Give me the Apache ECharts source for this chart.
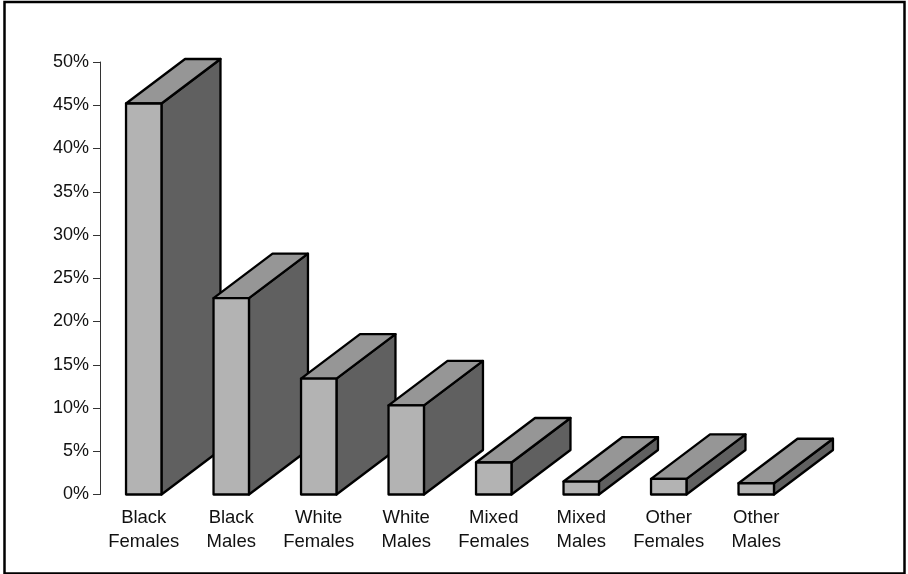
<!DOCTYPE html>
<html>
<head>
<meta charset="utf-8">
<script src="https://cdn.jsdelivr.net/npm/echarts@6/dist/echarts.min.js"></script>
<style>
  html, body { margin: 0; padding: 0; background: #ffffff; }
  #chart { width: 908px; height: 574px; }
</style>
</head>
<body>
<div id="chart"></div>
<script>
// Share of each group, in percent
const categories = ['Black Females', 'Black Males', 'White Females', 'White Males',
                    'Mixed Females', 'Mixed Males', 'Other Females', 'Other Males'];
const shares = [45.2, 22.7, 13.4, 10.3, 3.7, 1.5, 1.8, 1.3];
const yTicks = { min: 0, max: 50, step: 5 };

const FRONT = '#b3b3b3';
const TOP = '#969696';
const SIDE = '#606060';

// Extruded block: front face, top face and right side, offset back and up.
function renderBlock(params, api) {
  const idx = api.value(0);
  const val = api.value(1);
  const top = api.coord([idx, val]);
  const base = api.coord([idx, 0]);
  const w = api.size([1, 0])[0] * 0.405;
  const dx = 59, dy = -44.5;
  const x0 = top[0] - w / 2, x1 = top[0] + w / 2;
  const yt = top[1], yb = base[1];
  const stroke = { stroke: '#000', lineWidth: 2.3, lineJoin: 'round' };
  return {
    type: 'group',
    children: [
      { type: 'polygon',
        shape: { points: [[x1, yt], [x1, yb], [x1 + dx, yb + dy], [x1 + dx, yt + dy]] },
        style: Object.assign({ fill: SIDE }, stroke) },
      { type: 'polygon',
        shape: { points: [[x0, yt], [x1, yt], [x1 + dx, yt + dy], [x0 + dx, yt + dy]] },
        style: Object.assign({ fill: TOP }, stroke) },
      { type: 'rect',
        shape: { x: x0, y: yt, width: w, height: yb - yt },
        style: Object.assign({ fill: FRONT }, stroke) }
    ]
  };
}

const chart = echarts.init(document.getElementById('chart'), null, { renderer: 'canvas' });
chart.setOption({
  animation: false,
  backgroundColor: '#ffffff',
  textStyle: { fontFamily: 'Liberation Sans, Arial, sans-serif' },
  graphic: [{
    type: 'rect',
    shape: { x: 4.5, y: 2, width: 900, height: 571.5 },
    style: { fill: 'none', stroke: '#000', lineWidth: 2.5 },
    silent: true
  }],
  grid: { left: 100, right: 108, top: 62, bottom: 79.5, containLabel: false },
  xAxis: {
    type: 'category',
    data: categories,
    axisLine: { show: false },
    axisTick: { show: false },
    axisLabel: {
      interval: 0,
      margin: 11,
      fontSize: 18.5,
      lineHeight: 24.5,
      color: '#111',
      formatter: v => v.replace(' ', '\n')
    }
  },
  yAxis: {
    type: 'value',
    min: yTicks.min,
    max: yTicks.max,
    interval: yTicks.step,
    splitLine: { show: false },
    axisLine: { show: true, lineStyle: { color: '#333', width: 1 } },
    axisTick: { show: true, length: 7, lineStyle: { color: '#333', width: 1 } },
    axisLabel: { fontSize: 18, color: '#111', margin: 11, formatter: '{value}%' }
  },
  series: [{
    type: 'custom',
    renderItem: renderBlock,
    encode: { x: 0, y: 1 },
    data: shares.map((v, i) => [i, v])
  }]
});
</script>
</body>
</html>
